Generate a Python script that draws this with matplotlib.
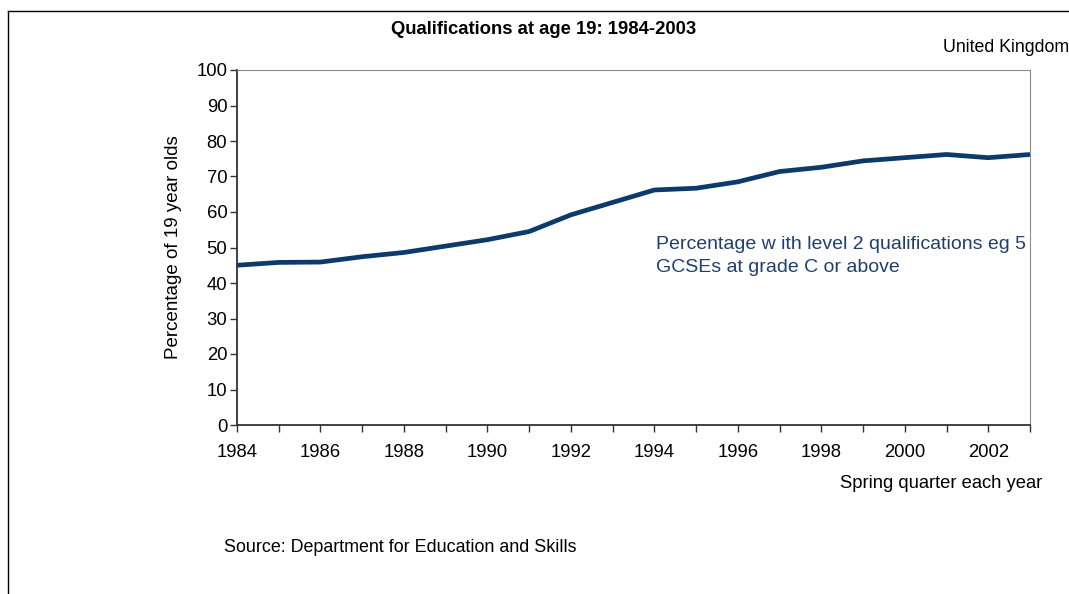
import matplotlib.pyplot as plt
from matplotlib.lines import Line2D

plt.rcParams['font.family'] = ['Liberation Sans', 'DejaVu Sans']

years = list(range(1984, 2004))
level2_pct = [45.0, 45.8, 45.9, 47.4, 48.6, 50.4, 52.2, 54.5, 59.2, 62.7,
              66.2, 66.7, 68.5, 71.4, 72.6, 74.4, 75.3, 76.2, 75.3, 76.2]

fig = plt.figure(figsize=(10.69, 5.94), dpi=100)
W, H = 1069, 594
ax = fig.add_axes([237 / W, 1 - 425 / H, (1030 - 237) / W, (425 - 70) / H])

ax.plot(years, level2_pct, color='#0b3a6b', linewidth=3.4, solid_capstyle='butt')

ax.set_xlim(1984, 2003)
ax.set_ylim(0, 100)
ax.set_yticks(range(0, 101, 10))
ax.set_xticks(years, minor=True)
ax.set_xticks(range(1984, 2003, 2))
ax.tick_params(axis='both', which='both', direction='out', length=5, width=1,
               color='#333333', labelsize=13.3, labelcolor='black')
ax.tick_params(axis='x', which='major', pad=9)
ax.tick_params(axis='y', pad=2)

ax.spines['left'].set_color('#333333')
ax.spines['bottom'].set_color('#333333')
ax.spines['left'].set_linewidth(1.3)
ax.spines['bottom'].set_linewidth(1.3)
ax.spines['top'].set_color('#8c8c8c')
ax.spines['right'].set_color('#8c8c8c')

ax.set_ylabel('Percentage of 19 year olds', fontsize=13.5, labelpad=10)

fig.text(656 / W, 1 - 256 / H,
         'Percentage w ith level 2 qualifications eg 5\nGCSEs at grade C or above',
         color='#1f3f6e', fontsize=14, ha='left', va='center', linespacing=1.45)

fig.text(544 / W, 1 - 30 / H, 'Qualifications at age 19: 1984-2003',
         fontsize=13.3, fontweight='bold', ha='center', va='center')
fig.text(1069 / W, 1 - 48 / H, 'United Kingdom', fontsize=12.8, ha='right', va='center')
fig.text(1042 / W, 1 - 483 / H, 'Spring quarter each year', fontsize=13.2,
         ha='right', va='center')
fig.text(224 / W, 1 - 548 / H, 'Source: Department for Education and Skills',
         fontsize=12.9, ha='left', va='center')

# outer frame (only left and top edges visible)
fig.add_artist(Line2D([7.5 / W, 7.5 / W], [0, 1 - 11 / H], color='black', linewidth=1))
fig.add_artist(Line2D([7.5 / W, 1], [1 - 11 / H, 1 - 11 / H], color='black', linewidth=1))

fig.savefig('out.png', dpi=100)
